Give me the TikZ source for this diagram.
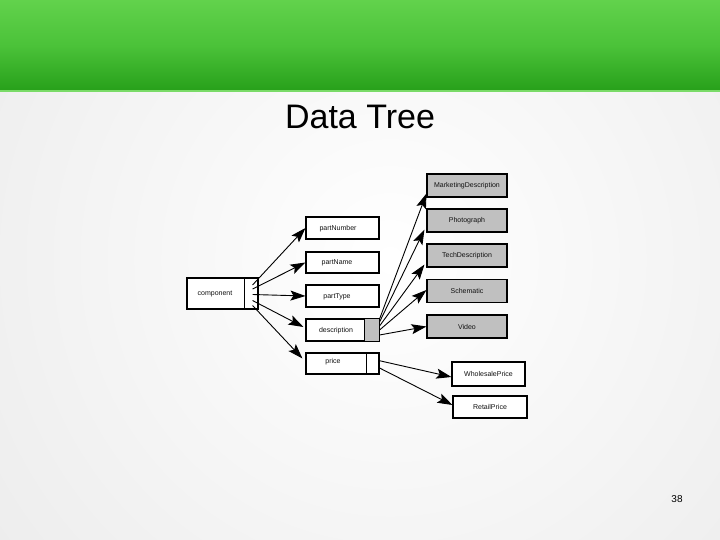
\documentclass[tikz,border=0pt]{standalone}
\usepackage{fontspec}
\setmainfont{Liberation Sans}
\usetikzlibrary{arrows.meta,calc}
\definecolor{gtop}{HTML}{62D24C}
\definecolor{gmid}{HTML}{4BC239}
\definecolor{gbot}{HTML}{27A01A}
\definecolor{gline}{HTML}{7ADB68}
\definecolor{bggrey}{HTML}{E8E8E8}
\definecolor{boxgrey}{HTML}{C0C0C0}
\definecolor{txt}{HTML}{111111}
\tikzset{
  lbl/.style={font=\fontsize{7}{8}\selectfont,text=txt},
  box/.style={draw=black,line width=1.1pt,rectangle,inner sep=0pt,lbl},
  gbox/.style={box,fill=boxgrey},
  wbox/.style={box,fill=white},
  arr/.style={line width=0.9pt,-{Stealth[length=15pt,width=10pt,inset=3pt]}},
}
\begin{document}
\begin{tikzpicture}[x=1pt,y=-1pt]
\useasboundingbox (0,0) rectangle (720,540);
% background
\fill[bggrey] (0,0) rectangle (720,540);
\begin{scope}
\clip (0,0) rectangle (720,540);
\shade[inner color=white,outer color=bggrey] (390,260) circle (620);
\end{scope}
% header
\shade[top color=gtop,bottom color=gbot,middle color=gmid] (0,0) rectangle (720,91);
\fill[gline] (0,90) rectangle (720,92.5);
% title
\node[font=\fontsize{34}{40}\selectfont,text=black] (title) at (360,117) {Data Tree};
% left node
\node[wbox,minimum width=71pt,minimum height=31pt] (comp) at (222.5,293.5) {};
\node[lbl] (compt) at (215,294) {component};
\draw[line width=1.1pt] ($(comp.north west)+(58,0)$) -- ($(comp.south west)+(58,0)$);
% middle column
\node[wbox,minimum width=73pt,minimum height=22pt] (pn) at (342.5,228) {};
\node[wbox,minimum width=73pt,minimum height=21pt] (pna) at (342.5,262.5) {};
\node[wbox,minimum width=73pt,minimum height=22pt] (pt) at (342.5,296) {};
\node[wbox,minimum width=73pt,minimum height=22pt] (de) at (342.5,330) {};
\node[wbox,minimum width=73pt,minimum height=21pt] (pr) at (342.5,363.5) {};
\fill[boxgrey,draw=black,line width=1.1pt] ($(de.north east)+(-15,0)$) rectangle (de.south east);
\draw[line width=1.1pt] ($(pr.north east)+(-13,0)$) -- ($(pr.south east)+(-13,0)$);
\node[lbl] (pnt) at (338,228.5) {partNumber};
\node[lbl] (pnat) at (337,262.5) {partName};
\node[lbl] (ptt) at (337,296.5) {partType};
\node[lbl] (det) at (336,330.5) {description};
\node[lbl] (prt) at (333,362) {price};
% right column
\node[gbox,minimum width=80pt,minimum height=23pt] (mk) at (467,185.5) {MarketingDescription};
\node[gbox,minimum width=80pt,minimum height=23pt] (ph) at (467,220.5) {Photograph};
\node[gbox,minimum width=80pt,minimum height=23pt] (td) at (467,255.5) {TechDescription};
\node[gbox,minimum width=80pt,minimum height=23pt] (sc) at (467,291) {Schematic};
\node[gbox,minimum width=80pt,minimum height=23pt] (vi) at (467,326.5) {Video};
\node[wbox,minimum width=73pt,minimum height=24pt] (wp) at (488.5,374) {WholesalePrice};
\node[wbox,minimum width=74pt,minimum height=22pt] (rp) at (490,407) {RetailPrice};
% arrows from component
\draw[arr] ($(comp.east)+(-6,-8.5)$) -- (pn.west);
\draw[arr] ($(comp.east)+(-6,-4.5)$) -- (pna.west);
\draw[arr] ($(comp.east)+(-6,1)$) -- (pt.west);
\draw[arr] ($(comp.east)+(-6,7)$) -- ($(de.west)+(-2,-3)$);
\draw[arr] ($(comp.east)+(-6,12)$) -- ($(pr.west)+(-3,-5)$);
% arrows from description
\draw[arr] ($(de.east)+(0,-11)$) -- ($(mk.south west)+(0,-4)$);
\draw[arr] ($(de.east)+(0,-8)$) -- ($(ph.south west)+(-2,-3)$);
\draw[arr] ($(de.east)+(0,-4)$) -- ($(td.south west)+(-2,-3)$);
\draw[arr] ($(de.east)+(0,0)$) -- ($(sc.west)+(0,-1)$);
\draw[arr] ($(de.east)+(0,5)$) -- (vi.west);
% arrows from price
\draw[arr] ($(pr.east)+(-1,-3)$) -- ($(wp.west)+(0,3)$);
\draw[arr] ($(pr.east)+(-1,4)$) -- ($(rp.west)+(0,-2)$);
% page number
\node[font=\fontsize{10}{12}\selectfont,text=black] (num) at (677,499) {38};
\end{tikzpicture}
\end{document}
